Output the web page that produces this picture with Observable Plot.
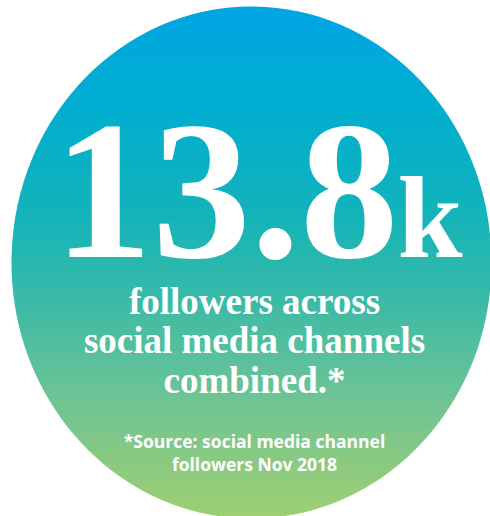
<!DOCTYPE html>
<html>
<head>
<meta charset="utf-8">
<script src="https://cdn.jsdelivr.net/npm/d3@7"></script>
<script src="https://cdn.jsdelivr.net/npm/@observablehq/plot@0.6"></script>
<style>
  html, body { margin: 0; padding: 0; background: #ffffff; }
  #chart svg { display: block; }
</style>
</head>
<body>
<div id="chart"></div>
<script>
// ---- data ----
const bigValue = ["13.8"];
const unit = ["k"];
const headline = ["followers across", "social media channels", "combined.*"];
const source = ["*Source: social media channel", "followers Nov 2018"];

// ---- styles ----
const gradientStops = [
  [0.00, "#00A5E3"],
  [0.20, "#01AECF"],
  [0.40, "#12B3BA"],
  [0.55, "#34B9A9"],
  [0.75, "#6AC396"],
  [0.90, "#8CCA80"],
  [1.00, "#9ED072"]
];

const W = 490, H = 516;
const aspect = 240 / 256; // ellipse rx / ry

// custom ellipse symbol for Plot.dot
const ellipseSymbol = {
  draw(context, size) {
    const ry = Math.sqrt(size / Math.PI);
    const rx = ry * aspect;
    const k = 0.5522847498;
    context.moveTo(0, -ry);
    context.bezierCurveTo(k * rx, -ry, rx, -k * ry, rx, 0);
    context.bezierCurveTo(rx, k * ry, k * rx, ry, 0, ry);
    context.bezierCurveTo(-k * rx, ry, -rx, k * ry, -rx, 0);
    context.bezierCurveTo(-rx, -k * ry, -k * rx, -ry, 0, -ry);
    context.closePath();
  }
};

const serif = "'Liberation Serif', 'DejaVu Serif', serif";
const sans = "'Open Sans', 'Noto Sans', sans-serif";

const svg = Plot.plot({
  width: W,
  height: H,
  margin: 0,
  x: {type: "identity", axis: null},
  y: {type: "identity", axis: null},
  marks: [
    Plot.dot([0], {x: 251, y: 262, r: 256, symbol: ellipseSymbol, fill: "url(#bgGrad)", stroke: "none"}),
    Plot.text(bigValue, {x: 398, y: 256, text: d => d, textAnchor: "end", lineAnchor: "bottom",
      fontSize: 197, fontFamily: serif, fontWeight: "bold", fill: "white"}),
    Plot.text(unit, {x: 397, y: 256, text: d => d, textAnchor: "start", lineAnchor: "bottom",
      fontSize: 117, fontFamily: serif, fontWeight: "bold", fill: "white"}),
    Plot.text(headline, {x: 254, y: (d, i) => 313 + i * 39.5, text: d => d, textAnchor: "middle", lineAnchor: "bottom",
      fontSize: 37, fontFamily: serif, fontWeight: "bold", fill: "white"}),
    Plot.text(source, {x: 254, y: (d, i) => 447 + i * 23.5, text: d => d, textAnchor: "middle", lineAnchor: "bottom",
      fontSize: 17.5, fontFamily: sans, fontWeight: "bold", fill: "white"})
  ]
});

// gradient definition
const defs = d3.select(svg).insert("defs", ":first-child");
const grad = defs.append("linearGradient")
  .attr("id", "bgGrad")
  .attr("x1", 0).attr("y1", 0).attr("x2", 0).attr("y2", 1);
gradientStops.forEach(([o, c]) => grad.append("stop").attr("offset", o).attr("stop-color", c));

document.getElementById("chart").appendChild(svg);
</script>
</body>
</html>
